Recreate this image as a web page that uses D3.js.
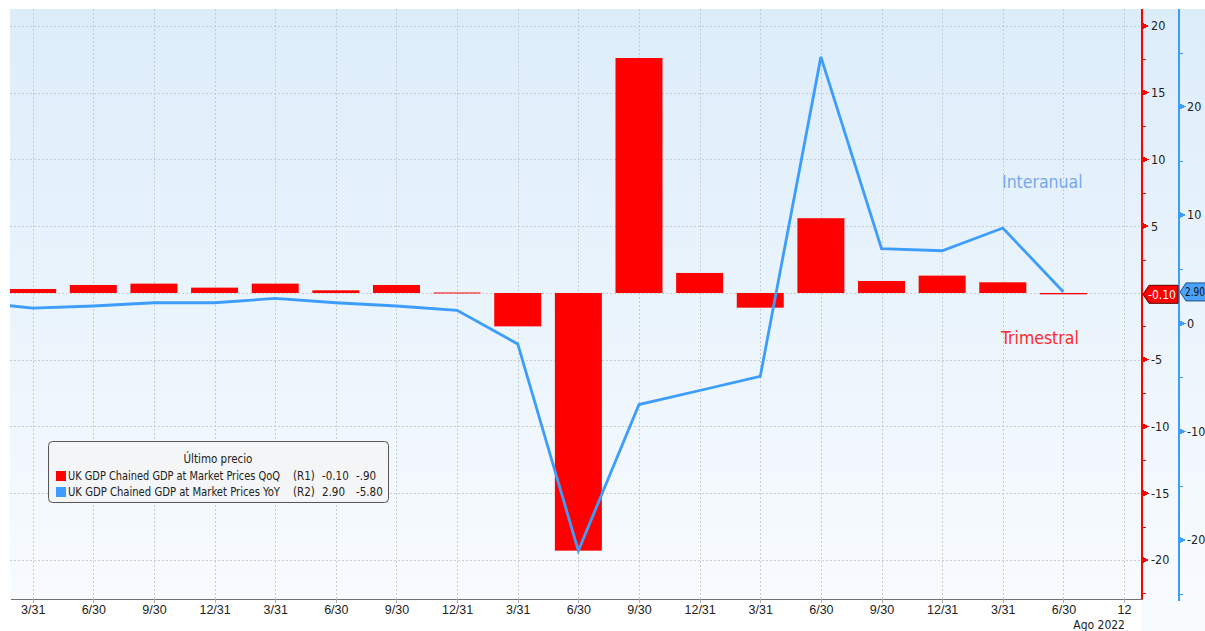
<!DOCTYPE html>
<html>
<head>
<meta charset="utf-8">
<script src="https://cdn.jsdelivr.net/npm/d3@7"></script>
<style>
  body { margin: 0; background: #fff; }
  svg { display: block; font-family: "DejaVu Sans Condensed", "Liberation Sans Narrow", sans-serif; }
  .axis path, .axis line { shape-rendering: crispEdges; }
</style>
</head>
<body>
<svg id="chart"></svg>
<script>
// x tick labels (quarter ends 2018 Q1 .. 2022 Q2, then Aug 2022 marker)
var tickLabels = ["3/31","6/30","9/30","12/31","3/31","6/30","9/30","12/31","3/31","6/30",
                  "9/30","12/31","3/31","6/30","9/30","12/31","3/31","6/30","12"];
// UK GDP QoQ (%), 2018 Q1 .. 2022 Q2  (R1, red bars)
var qoq = [0.3, 0.6, 0.7, 0.4, 0.7, 0.2, 0.6, 0.0, -2.5, -19.3, 17.6, 1.5, -1.1, 5.6, 0.9, 1.3, 0.8, -0.1];
// UK GDP YoY (%), 2017 Q4 .. 2022 Q2  (R2, blue line) - first value is the quarter before the chart
var yoy = [2.0, 1.4, 1.6, 1.9, 1.9, 2.3, 1.9, 1.6, 1.2, -1.9, -21.0, -7.5, -6.2, -4.9, 24.6, 6.9, 6.7, 8.8, 2.9];
var redTicks = [-20, -15, -10, -5, 0, 5, 10, 15, 20];
var redMinor = [-22.5, -17.5, -12.5, -7.5, -2.5, 2.5, 7.5, 12.5, 17.5];
var blueTicks = [-20, -10, 0, 10, 20];
var blueMinor = [-25, -15, -5, 5, 15, 25];

var W = 1205, H = 631;
var pLeft = 10, pRight = 1142, pTop = 9, pBottom = 599;

var svg = d3.select("#chart").attr("width", W).attr("height", H);

var x = d3.scaleLinear().domain([-0.374, 18.296]).range([pLeft, pRight]);
var yR = d3.scaleLinear().domain([-22.92, 21.27]).range([pBottom, pTop]);
var yB = d3.scaleLinear().domain([-25.45, 29.02]).range([pBottom, pTop]);
var barW = (x(1) - x(0)) * 0.775;

// background gradient
var defs = svg.append("defs");
var grad = defs.append("linearGradient").attr("id", "bg").attr("x1", 0).attr("y1", 0).attr("x2", 0).attr("y2", 1);
grad.append("stop").attr("offset", "0%").attr("stop-color", "#dcedfa");
grad.append("stop").attr("offset", "100%").attr("stop-color", "#f8fbfe");
defs.append("clipPath").attr("id", "clip")
  .append("rect").attr("x", pLeft).attr("y", pTop).attr("width", pRight - pLeft).attr("height", pBottom - pTop);

svg.append("rect").attr("x", pLeft).attr("y", pTop).attr("width", W - pLeft).attr("height", pBottom - pTop)
  .attr("fill", "url(#bg)");
svg.append("rect").attr("x", pRight).attr("y", pBottom).attr("width", W - pRight).attr("height", H - pBottom)
  .attr("fill", "#f8fbfe");

// grid
var grid = svg.append("g").attr("stroke", "#c8ccd0").attr("stroke-dasharray", "2,2").attr("stroke-width", 1);
grid.selectAll(".h").data(redTicks).enter().append("line")
  .attr("x1", pLeft).attr("x2", pRight)
  .attr("y1", function(d){ return Math.round(yR(d)) + 0.5; })
  .attr("y2", function(d){ return Math.round(yR(d)) + 0.5; });
grid.selectAll(".v").data(d3.range(tickLabels.length)).enter().append("line")
  .attr("y1", pTop).attr("y2", pBottom + 4)
  .attr("x1", function(d){ return Math.round(x(d)) + 0.5; })
  .attr("x2", function(d){ return Math.round(x(d)) + 0.5; });

var plot = svg.append("g").attr("clip-path", "url(#clip)");

// bars
plot.selectAll(".bar").data(qoq).enter().append("rect")
  .attr("x", function(d, i){ return x(i) - barW / 2; })
  .attr("width", barW)
  .attr("y", function(d){ return Math.min(yR(d), yR(0)) - (d === 0 ? 0.5 : 0); })
  .attr("height", function(d){ return Math.max(1, Math.abs(yR(d) - yR(0))); })
  .attr("fill", "#ff0000");

// line
var line = d3.line().x(function(d, i){ return x(i - 1); }).y(function(d){ return yB(d); });
plot.append("path").datum(yoy)
  .attr("d", line)
  .attr("fill", "none")
  .attr("stroke", "#3d9dfc")
  .attr("stroke-width", 2.8)
  .attr("stroke-linejoin", "miter");

// x axis
var xAxis = svg.append("g").attr("class", "axis").attr("transform", "translate(0," + pBottom + ")")
  .call(d3.axisBottom(x).tickValues(d3.range(tickLabels.length))
    .tickFormat(function(i){ return tickLabels[i]; }).tickSize(4).tickPadding(2).tickSizeOuter(0));
xAxis.select(".domain").attr("stroke", "#707070").attr("stroke-width", 1.5);
xAxis.selectAll(".tick line").attr("stroke", "#b0b0b0");
xAxis.selectAll("text").attr("font-size", 12.5).attr("fill", "#222").attr("font-family", "inherit");
svg.append("text").attr("x", 1125).attr("y", 629).attr("text-anchor", "end")
  .attr("font-size", 12).attr("fill", "#222").text("Ago 2022");

// red axis (R1)
var rAxis = svg.append("g").attr("class", "axis").attr("transform", "translate(" + pRight + ",0)");
rAxis.append("line").attr("x1", 0).attr("x2", 0).attr("y1", pTop).attr("y2", pBottom)
  .attr("stroke", "#ff0000").attr("stroke-width", 1.5);
rAxis.selectAll(".mn").data(redMinor).enter().append("line")
  .attr("x1", 0).attr("x2", 4)
  .attr("y1", function(d){ return Math.round(yR(d)) + 0.5; })
  .attr("y2", function(d){ return Math.round(yR(d)) + 0.5; })
  .attr("stroke", "#ff0000");
rAxis.selectAll(".tri").data(redTicks.filter(function(d){ return d !== 0; })).enter().append("path")
  .attr("d", function(d){ var y = yR(d); return "M0," + (y - 3.5) + "L7," + y + "L0," + (y + 3.5) + "Z"; })
  .attr("fill", "#ff0000");
rAxis.selectAll(".lbl").data(redTicks.filter(function(d){ return d !== 0; })).enter().append("text")
  .attr("x", 9).attr("y", function(d){ return yR(d); }).attr("dy", "0.35em")
  .attr("font-size", 12.5).attr("fill", "#222")
  .text(function(d){ return d < 0 ? "-" + Math.abs(d) : d; });

// blue axis (R2)
var bx = 1179;
var bAxis = svg.append("g").attr("class", "axis").attr("transform", "translate(" + bx + ",0)");
bAxis.append("line").attr("x1", 0).attr("x2", 0).attr("y1", pTop).attr("y2", pBottom + 2)
  .attr("stroke", "#3d9dfc").attr("stroke-width", 1.5);
bAxis.selectAll(".mn").data(blueMinor).enter().append("line")
  .attr("x1", 0).attr("x2", 4)
  .attr("y1", function(d){ return Math.round(yB(d)) + 0.5; })
  .attr("y2", function(d){ return Math.round(yB(d)) + 0.5; })
  .attr("stroke", "#3d9dfc");
bAxis.selectAll(".tri").data(blueTicks).enter().append("path")
  .attr("d", function(d){ var y = yB(d); return "M0," + (y - 3.5) + "L7," + y + "L0," + (y + 3.5) + "Z"; })
  .attr("fill", "#3d9dfc");
bAxis.selectAll(".lbl").data(blueTicks).enter().append("text")
  .attr("x", 8).attr("y", function(d){ return yB(d); }).attr("dy", "0.35em")
  .attr("font-size", 12.5).attr("fill", "#222")
  .text(function(d){ return d < 0 ? "-" + Math.abs(d) : d; });

// last value tags
var lastQ = qoq[qoq.length - 1], lastY = yoy[yoy.length - 1];
function tag(g, x0, w, y, fill, stroke, txt, col, tw) {
  g.append("path")
    .attr("d", "M" + x0 + "," + y + "L" + (x0 + 6) + "," + (y - 9) + "L" + (x0 + w) + "," + (y - 9) +
               "L" + (x0 + w) + "," + (y + 9) + "L" + (x0 + 6) + "," + (y + 9) + "Z")
    .attr("fill", fill).attr("stroke", stroke).attr("stroke-width", 1);
  g.append("text").attr("x", x0 + 5).attr("y", y).attr("dy", "0.36em")
    .attr("font-size", 12).attr("fill", col).text(txt)
    .attr("textLength", tw).attr("lengthAdjust", "spacingAndGlyphs");
}
tag(svg, pRight + 1, 35, yR(lastQ), "#ff0000", "#5a0000", lastQ.toFixed(2), "#fff", 28);
tag(svg, bx + 1, 30, yB(lastY), "#4aa3fb", "#1a4f8a", lastY.toFixed(2), "#111", 20);

// series annotations
svg.append("text").attr("x", 1002).attr("y", 188).attr("font-size", 17.5)
  .attr("fill", "#78a7f0").text("Interanual");
svg.append("text").attr("x", 1001).attr("y", 344).attr("font-size", 17.5)
  .attr("fill", "#ff2a2a").text("Trimestral");

// legend
var lg = svg.append("g");
lg.append("rect").attr("x", 48.5).attr("y", 441.5).attr("width", 340).attr("height", 61).attr("rx", 4)
  .attr("fill", "#f3f5f7").attr("stroke", "#555").attr("stroke-width", 1);
lg.append("text").attr("x", 218).attr("y", 463).attr("text-anchor", "middle")
  .attr("font-size", 11.5).attr("fill", "#222").text("Último precio");
var legRows = [
  { color: "#ff0000", name: "UK GDP Chained GDP at Market Prices QoQ", axis: "(R1)", last: "-0.10", avg: "-.90" },
  { color: "#3d9dfc", name: "UK GDP Chained GDP at Market Prices YoY", axis: "(R2)", last: "2.90", avg: "-5.80" }
];
legRows.forEach(function(r, i) {
  var yy = 476 + i * 16;
  lg.append("rect").attr("x", 56).attr("y", yy - 5).attr("width", 10).attr("height", 10).attr("fill", r.color);
  var t = [[68, r.name, 212], [293, r.axis, 0], [322, r.last, 0], [356, r.avg, 0]];
  t.forEach(function(p) {
    var el = lg.append("text").attr("x", p[0]).attr("y", yy).attr("dy", "0.35em")
      .attr("font-size", 11.5).attr("fill", "#222").text(p[1]);
    if (p[2]) el.attr("textLength", p[2]).attr("lengthAdjust", "spacingAndGlyphs");
  });
});
</script>
</body>
</html>
